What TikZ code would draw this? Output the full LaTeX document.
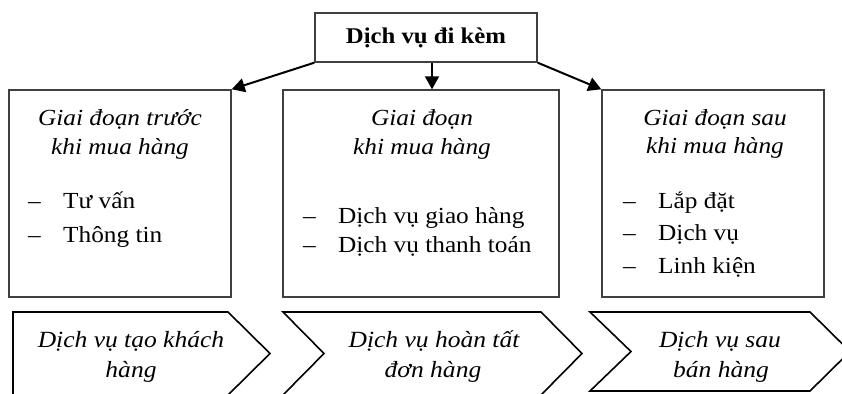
\documentclass[tikz,border=0pt]{standalone}
\usepackage{fontspec}
\setmainfont[FakeStretch=1.1]{Liberation Serif}
\usetikzlibrary{arrows.meta}

\newcommand{\gachdau}{\makebox[35pt][l]{–}}

\begin{document}
\begin{tikzpicture}[x=1pt, y=-1pt, >={Triangle[length=13pt,width=14pt]},
	khung/.style={draw=black!75, line width=1.4pt, inner sep=0pt},
	tieude/.style={anchor=base, inner sep=0pt, font=\fontsize{23}{28}\selectfont\itshape},
	muc/.style={anchor=base west, inner sep=0pt, font=\fontsize{23}{28}\selectfont},
	muiten/.style={->, line width=2pt, black},
	vach/.style={draw=black, line width=1.6pt, line join=miter},
	chu/.style={anchor=base, inner sep=0pt, font=\fontsize{23.2}{28}\selectfont\itshape}]
	\useasboundingbox (0,0) rectangle (842,393);
	\clip (0,0) rectangle (842,393);

	% ==================== O TREN CUNG ====================
	\node[khung, minimum width=222pt, minimum height=49pt, font=\fontsize{22.5}{27}\selectfont\bfseries] (dichvu) at (426,37.5) {Dịch vụ đi kèm};

	% ==================== BA GIAI DOAN ====================
	\node[khung, minimum width=222pt, minimum height=207pt] (truoc) at (120,193.5) {};
	\node[khung, minimum width=276pt, minimum height=207pt] (trong) at (421,193.5) {};
	\node[khung, minimum width=222pt, minimum height=207pt] (sau) at (713,193.5) {};

	% mui ten
	\draw[muiten] (dichvu.south west) -- (truoc.north east);
	\draw[muiten] ([xshift=6pt]dichvu.south) -- ([xshift=11pt]trong.north);
	\draw[muiten] (dichvu.south east) -- (sau.north west);

	% giai doan truoc
	\node[tieude] (truoc1) at (120,125) {Giai đoạn trước};
	\node[tieude] (truoc2) at (120,154) {khi mua hàng};
	\node[muc] (tuvan) at (28,208) {\gachdau Tư vấn};
	\node[muc] (thongtin) at (28,242) {\gachdau Thông tin};

	% giai doan khi mua
	\node[tieude] (trong1) at (422,125) {Giai đoạn};
	\node[tieude] (trong2) at (422,154) {khi mua hàng};
	\node[muc] (giaohang) at (303,223) {\gachdau Dịch vụ giao hàng};
	\node[muc] (thanhtoan) at (303,252) {\gachdau Dịch vụ thanh toán};

	% giai doan sau
	\node[tieude] (sau1) at (715,125) {Giai đoạn sau};
	\node[tieude] (sau2) at (715,153) {khi mua hàng};
	\node[muc] (lapdat) at (623,208) {\gachdau Lắp đặt};
	\node[muc] (dvsau) at (623,240.5) {\gachdau Dịch vụ};
	\node[muc] (linhkien) at (623,273) {\gachdau Linh kiện};

	% ==================== CHUOI MUI TEN DUOI ====================
	\draw[vach] (13,312) -- (228,312) -- (270,353.5) -- (228,395) -- (13,395) -- cycle;
	\draw[vach] (283,312) -- (541,312) -- (582,353.5) -- (541,395) -- (283,395) -- (324,353.5) -- cycle;
	\draw[vach] (590,312) -- (810,312) -- (850,351.5) -- (810,391) -- (590,391) -- (631,351.5) -- cycle;

	\node[chu] (tao1) at (131,347) {Dịch vụ tạo khách};
	\node[chu] (tao2) at (131,377) {hàng};
	\node[chu] (hoan1) at (434,347) {Dịch vụ hoàn tất};
	\node[chu] (hoan2) at (433,377) {đơn hàng};
	\node[chu] (ban1) at (720,347) {Dịch vụ sau};
	\node[chu] (ban2) at (721,377) {bán hàng};
\end{tikzpicture}
\end{document}
